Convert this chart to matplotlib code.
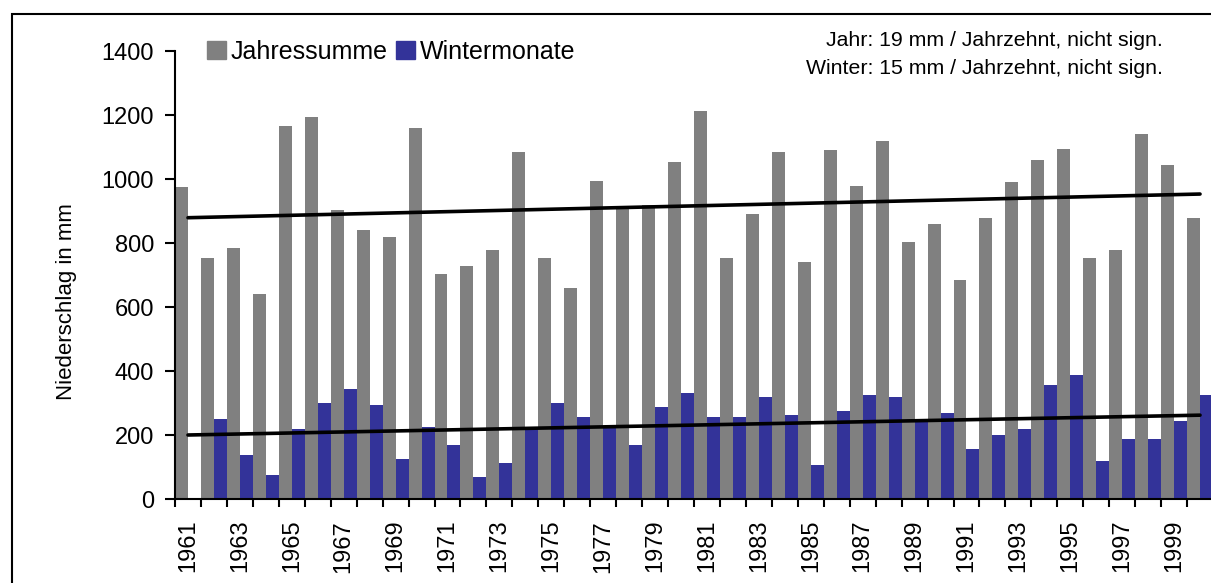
import numpy as np
import matplotlib.pyplot as plt
from matplotlib.patches import Patch, Rectangle

plt.rcParams['font.family'] = ['Liberation Sans', 'DejaVu Sans']

################################### Daten ##########################################
jahre = np.arange(1961, 2001)

# Jahressumme Niederschlag [mm]
jahressumme = [975, 752, 783, 640, 1165, 1195, 902, 840, 820, 1158,
               702, 727, 777, 1083, 752, 658, 995, 905, 920, 1052,
               1214, 752, 890, 1083, 740, 1090, 977, 1120, 802, 858,
               684, 878, 990, 1058, 1095, 752, 778, 1140, 1045, 878]

# Wintermonate [mm] (1961 fehlt)
wintermonate = [np.nan, 250, 138, 75, 218, 300, 344, 294, 125, 225,
                169, 69, 113, 222, 300, 257, 225, 169, 288, 332,
                257, 257, 319, 263, 107, 275, 325, 319, 247, 269,
                157, 200, 219, 357, 388, 119, 188, 188, 244, 325]

# Trendlinien (Anfang 1961, Ende 2000)
trend_jahre  = [1961, 2000]
trend_jahr   = [879, 953]
trend_winter = [200, 262]

text_jahr   = 'Jahr: 19 mm / Jahrzehnt, nicht sign.'
text_winter = 'Winter: 15 mm / Jahrzehnt, nicht sign.'

################################### Grafik ##########################################
W, H = 1211, 583
fig = plt.figure(figsize=(W/100, H/100), dpi=100)
ax = fig.add_axes([175/W, (H-499)/H, 1038/W, 448/H])

x = jahre - jahre[0]
ax.bar(x - 0.25, jahressumme,  width=0.5, color='#808080', label='Jahressumme')
ax.bar(x + 0.25, wintermonate, width=0.5, color='#333399', label='Wintermonate')

tx = np.array(trend_jahre) - jahre[0]
ax.plot(tx, trend_jahr,   color='black', lw=2.6, solid_capstyle='round')
ax.plot(tx, trend_winter, color='black', lw=2.6, solid_capstyle='round')

ax.set_xlim(-0.5, len(jahre) - 0.5)
ax.set_ylim(0, 1400)

# Achsen
for s in ['top', 'right']:
    ax.spines[s].set_visible(False)
for s in ['left', 'bottom']:
    ax.spines[s].set_linewidth(1.5)

ax.set_yticks(np.arange(0, 1401, 200))
ax.tick_params(axis='y', direction='out', length=7, width=1.5, labelsize=17, pad=8)

ax.set_xticks(np.arange(-0.5, len(jahre), 1))
ax.set_xticklabels([])
ax.tick_params(axis='x', which='major', direction='out', length=6, width=1.5)
ax.set_xticks(x[::2], minor=True)
ax.set_xticklabels([str(j) for j in jahre[::2]], minor=True, rotation=90)
ax.tick_params(axis='x', which='minor', length=0, labelsize=17, pad=15)

ax.set_ylabel('Niederschlag in mm', fontsize=16)
ax.yaxis.set_label_coords((77-175)/1038, (499-302)/448)

# Legende
handles = [Patch(color='#808080', label='Jahressumme'),
           Patch(color='#333399', label='Wintermonate')]
ax.legend(handles=handles, ncol=2, loc='upper left', bbox_to_anchor=(207/W, 1-40/H),
          bbox_transform=fig.transFigure, frameon=False, fontsize=18,
          handlelength=0.74, handleheight=0.72, handletextpad=0.2,
          columnspacing=0.35, borderpad=0, borderaxespad=0)

fig.text(1163/W, 1-41/H, text_jahr,   ha='right', va='center', fontsize=15.3)
fig.text(1163/W, 1-69/H, text_winter, ha='right', va='center', fontsize=15.3)

# Rahmen
fig.patches.append(Rectangle((12/W, -0.1), 1.2, 1.1 - 14/H, transform=fig.transFigure,
                             fill=False, edgecolor='black', lw=1.5))

plt.savefig('out.png', dpi=100)
